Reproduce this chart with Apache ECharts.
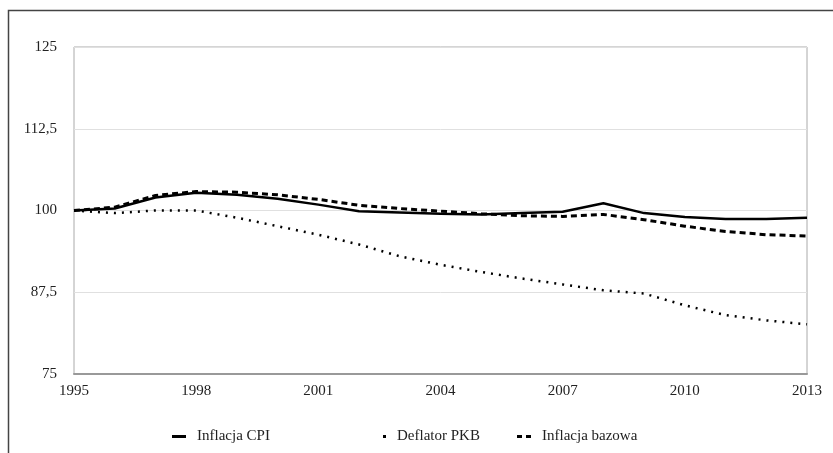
<!DOCTYPE html>
<html><head><meta charset="utf-8">
<script src="https://cdn.jsdelivr.net/npm/echarts@6/dist/echarts.min.js"></script>
<style>html,body{margin:0;padding:0;background:#fff}#c{width:833px;height:453px}</style>
</head><body><div id="c"></div>
<script>
const years = [1995,1996,1997,1998,1999,2000,2001,2002,2003,2004,2005,2006,2007,2008,2009,2010,2011,2012,2013];
const cpi  = [100,100.3,102.0,102.7,102.4,101.8,100.9,99.9,99.7,99.5,99.4,99.6,99.8,101.1,99.6,99.0,98.7,98.7,98.9];
const defl = [100,99.6,100.0,100.0,98.9,97.6,96.3,94.8,93.0,91.7,90.6,89.6,88.7,87.8,87.3,85.5,84.0,83.2,82.6];
const baz  = [100,100.5,102.3,102.9,102.8,102.4,101.7,100.8,100.3,99.9,99.5,99.2,99.1,99.4,98.6,97.6,96.8,96.3,96.1];
const names = ['Inflacja CPI','Deflator PKB','Inflacja bazowa'];

const font = 'Liberation Serif';
const pair = arr => years.map((y,i)=>[y,arr[i]]);
const chart = echarts.init(document.getElementById('c'));
const legendText = {fontFamily:font,fontSize:15,color:'#222',padding:[0,0,0,6]};
chart.setOption({
  animation:false,
  backgroundColor:'#fff',
  graphic:[{type:'rect',shape:{x:8.5,y:10.5,width:900,height:900},style:{fill:'none',stroke:'#444',lineWidth:1.5},silent:true}],
  grid:{left:74,right:26,top:47,bottom:79,show:true,borderColor:'#aaa',borderWidth:1},
  xAxis:{type:'value',min:1995,max:2013,interval:3,
    axisLine:{show:true,lineStyle:{color:'#999',width:2}},axisTick:{show:false},splitLine:{show:false},
    axisLabel:{fontFamily:font,fontSize:15,color:'#222',margin:10,formatter:v=>String(v)}},
  yAxis:{type:'value',min:75,max:125,interval:12.5,
    axisLine:{show:false},axisTick:{show:false},
    splitLine:{lineStyle:{color:'#e0e0e0',width:1}},
    axisLabel:{fontFamily:font,fontSize:15,color:'#222',margin:17,formatter:v=>String(v).replace('.',',')}},
  legend:[
    {data:[names[0]],left:167,top:424,itemWidth:14,itemHeight:3,icon:'rect',textStyle:legendText},
    {data:[names[1]],left:378,top:424,itemWidth:3,itemHeight:3,icon:'rect',textStyle:legendText},
    {data:[names[2]],left:512,top:424,itemWidth:14,itemHeight:3,icon:'path://M0,0h5v3h-5z M9,0h5v3h-5z',textStyle:legendText}
  ],
  series:[
    {name:names[0],type:'line',data:pair(cpi),symbol:'none',itemStyle:{color:'#000'},lineStyle:{color:'#000',width:2.5}},
    {name:names[1],type:'line',data:pair(defl),symbol:'none',itemStyle:{color:'#000'},lineStyle:{color:'#000',width:2.5,type:[2,6]}},
    {name:names[2],type:'line',data:pair(baz),symbol:'none',itemStyle:{color:'#000'},lineStyle:{color:'#000',width:3,type:[6,4]}}
  ]
});
</script></body></html>
